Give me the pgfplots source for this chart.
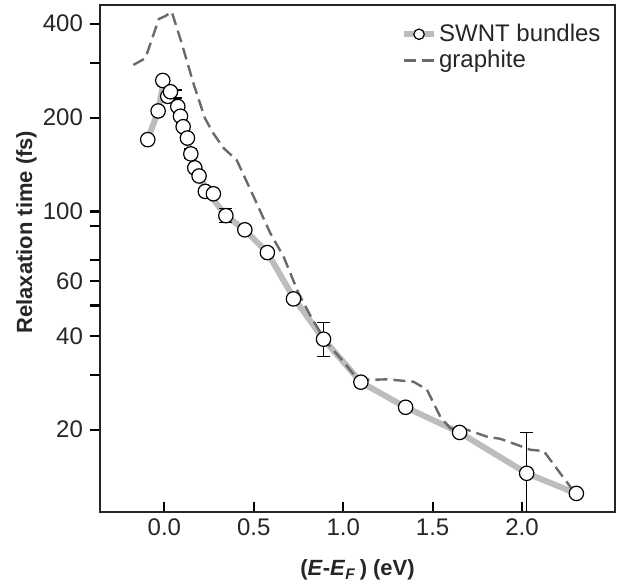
\documentclass[border=0pt]{standalone}
\usepackage{fontspec}
\setmainfont{Liberation Sans}
\usepackage{pgfplots}
\pgfplotsset{compat=1.18}
\definecolor{swnt}{HTML}{BDBDBD}
\definecolor{graph}{HTML}{6A6A6A}
\begin{document}
\begin{tikzpicture}
\useasboundingbox (-50pt,-35pt) rectangle (258.5pt,256pt);
\begin{axis}[
  at={(0,0)}, anchor=south west,
  scale only axis, width=257.5pt, height=253.5pt,
  ymode=log, log basis y=10,
  xmin=-0.36, xmax=2.52, ymin=10.9, ymax=459,
  xtick={0,0.5,1,1.5,2},
  xticklabels={0.0,0.5,1.0,1.5,2.0},
  ytick={20,40,60,100,200,400},
  yticklabels={20,40,60,100,200,400},
  extra y ticks={30,50,70,90,300},
  extra y tick labels={},
  minor ytick={},
  xtick pos=bottom, ytick pos=left,
  xtick align=inside, ytick align=outside,
  major tick length=5pt,
  every tick/.style={black, line width=1.1pt},
  axis line style={line width=1.1pt, black!85},
  ticklabel style={font=\fontsize{12}{14}\selectfont, text=black!85},
  /pgf/number format/assume math mode=true,
  xlabel={\textbf{(\textit{E}-\textit{E}\textsubscript{\textit{F}}\,) (eV)}},
  ylabel={\textbf{Relaxation time (fs)}},
  label style={font=\fontsize{11}{13}\selectfont, text=black!85},
  ylabel style={at={(axis description cs:-0.143,0.552)}, anchor=center},
  xlabel style={at={(axis description cs:0.5,-0.115)}, anchor=center},
  legend style={at={(0.572,0.975)}, anchor=north west, draw=none, fill=none,
    font=\fontsize{12}{14}\selectfont, text=black!85, row sep=1pt,
    nodes={inner sep=1pt}},
  legend cell align=left,
  legend image code/.code={\draw[mark repeat=2, mark phase=2, #1] plot coordinates {(0cm,0cm) (0.265cm,0cm) (0.53cm,0cm)};},
]
% SWNT smooth gray line
\addplot[swnt, line width=3pt, line join=round, line cap=round, forget plot] coordinates {
(-0.093,170) (-0.035,210) (-0.005,258) (0.03,240) (0.075,214) (0.105,187) (0.148,153)
(0.194,130) (0.25,114) (0.344,97) (0.45,87.4) (0.576,73.9) (0.722,53) (0.89,39)
(1.099,28.4) (1.349,23.6) (1.651,19.6) (2.026,14.5) (2.304,12.5)
};
% graphite dashed
\addplot[graph, line width=1.2pt, dash pattern=on 6pt off 3pt, line join=round, forget plot] coordinates {
(-0.173,295) (-0.106,310) (-0.031,414) (0.006,423) (0.041,437) (0.097,346) (0.162,258)
(0.227,199) (0.274,178) (0.33,160) (0.405,146) (0.498,112) (0.592,85.3) (0.666,71.8)
(0.75,54.8) (0.82,46) (0.9,38.5) (1.0,33.1) (1.077,29.2) (1.151,28.9) (1.245,29.0)
(1.393,28.5) (1.468,26.9) (1.543,22.0) (1.599,20.2) (1.692,20.0) (1.804,19.0)
(1.879,18.7) (1.972,17.9) (2.046,17.25) (2.121,17.1) (2.214,14.5) (2.289,12.7)
};
% long error bars (below circles)
\addplot[draw=none, mark=none, forget plot,
  error bars/.cd, y dir=both, y explicit,
  error bar style={line width=0.6pt, draw=black, solid},
  error mark options={rotate=90, mark size=3.3pt, line width=0.6pt, draw=black}] coordinates {
(0.89,39) += (0,5.1) -= (0,4.6)
(2.026,14.5) += (0,5.1) -= (0,4.3)
};
% SWNT circles
\addplot[only marks, mark=*, mark size=3.6pt, mark options={fill=white, draw=black, line width=0.6pt}, forget plot] coordinates {
(-0.093,170) (-0.035,210) (-0.009,263) (0.019,234) (0.034,242) (0.075,217) (0.09,202)
(0.105,187) (0.129,172) (0.148,153) (0.170,138) (0.194,130) (0.229,116) (0.274,114)
(0.344,97) (0.45,87.4) (0.576,73.9) (0.722,52.5) (0.89,39) (1.099,28.4) (1.349,23.6)
(1.651,19.6) (2.026,14.5) (2.304,12.5)
};
% short error bars (over circles)
\addplot[draw=none, mark=none, forget plot,
  error bars/.cd, y dir=both, y explicit,
  error bar style={line width=0.6pt, draw=black, solid},
  error mark options={rotate=90, mark size=3.3pt, line width=0.6pt, draw=black}] coordinates {
(0.06,238) += (0,7) -= (0,7)
(0.148,153) += (0,5.7) -= (0,5.0)
(0.344,97) += (0,5.5) -= (0,4.5)
};
\addlegendimage{swnt, line width=3pt, mark=*, mark size=2.6pt, mark options={fill=white, draw=black, line width=0.6pt, solid}}
\addlegendentry{SWNT bundles}
\addlegendimage{graph, line width=1.2pt, dash pattern=on 6pt off 3pt}
\addlegendentry{graphite}
\end{axis}
\end{tikzpicture}
\end{document}
